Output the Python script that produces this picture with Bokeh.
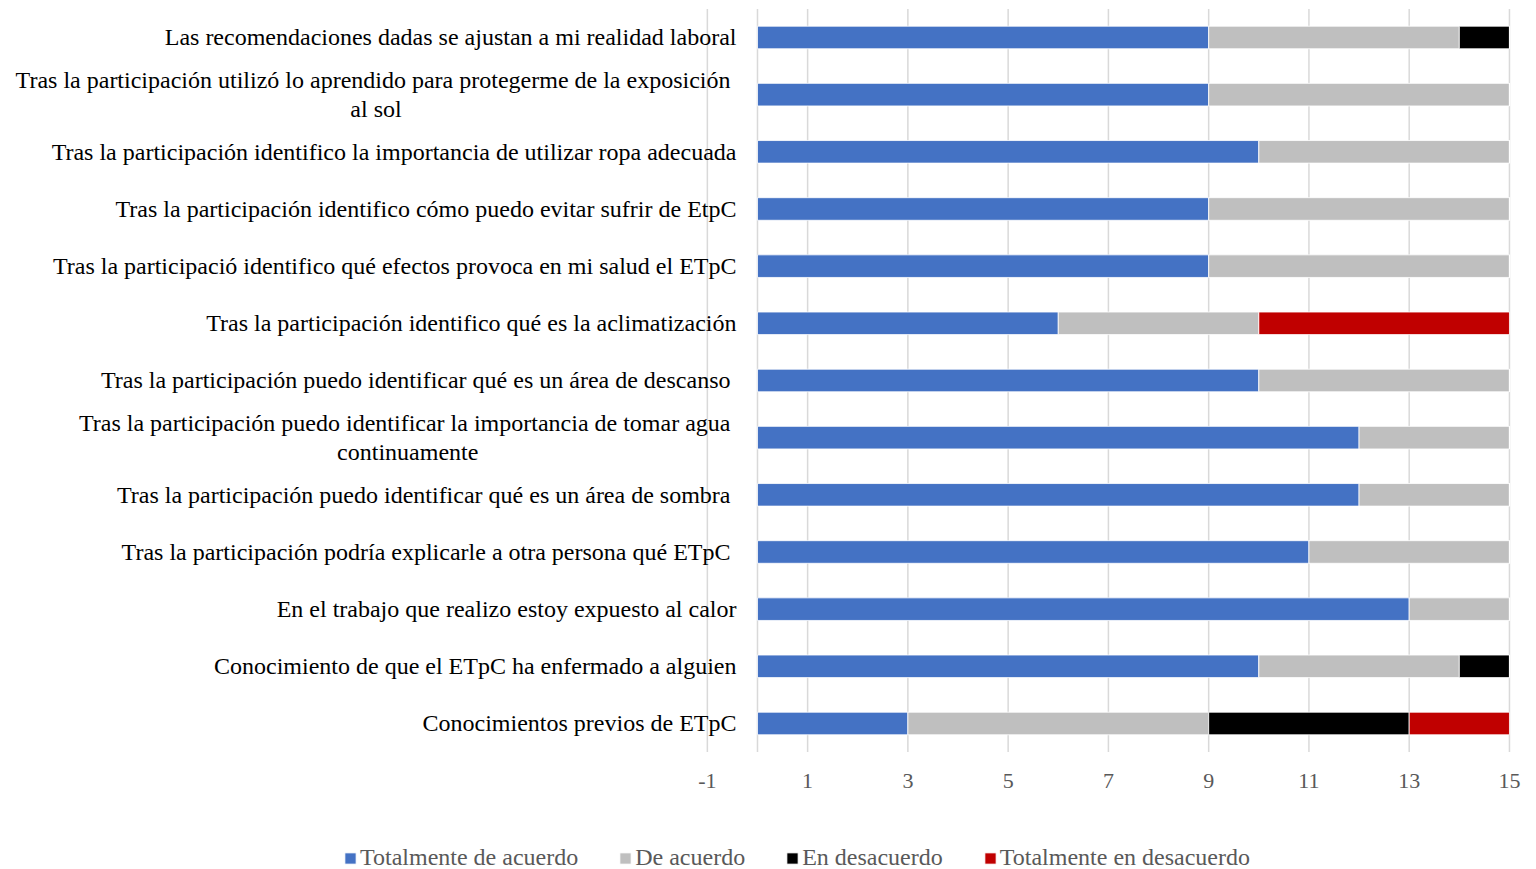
from bokeh.plotting import figure
from bokeh.models import ColumnDataSource, Legend, LegendItem, Range1d
from bokeh.core.properties import value
from bokeh.embed import file_html
from bokeh.resources import INLINE

categories = [
    "Las recomendaciones dadas se ajustan a mi realidad laboral",
    "Tras la participación  utilizó lo aprendido para protegerme de la exposición\nal sol",
    "Tras la participación identifico la importancia de utilizar ropa adecuada",
    "Tras la participación identifico cómo puedo evitar sufrir de EtpC",
    "Tras la participació identifico qué efectos provoca en mi salud el ETpC",
    "Tras la participación identifico qué es la aclimatización",
    "Tras la participación  puedo identificar qué es un área de descanso",
    "Tras la participación  puedo identificar la importancia de tomar agua\ncontinuamente",
    "Tras la participación  puedo identificar qué es un área de sombra",
    "Tras la participación  podría explicarle a otra persona qué ETpC",
    "En el trabajo que realizo estoy expuesto al calor",
    "Conocimiento de que el ETpC ha enfermado a alguien",
    "Conocimientos previos de ETpC",
]
totalmente_de_acuerdo = [9, 9, 10, 9, 9, 6, 10, 12, 12, 11, 13, 10, 3]
de_acuerdo = [5, 6, 5, 6, 6, 4, 5, 3, 3, 4, 2, 4, 6]
en_desacuerdo = [1, 0, 0, 0, 0, 0, 0, 0, 0, 0, 0, 1, 4]
totalmente_en_desacuerdo = [0, 0, 0, 0, 0, 5, 0, 0, 0, 0, 0, 0, 2]
series_names = ["Totalmente de acuerdo", "De acuerdo", "En desacuerdo", "Totalmente en desacuerdo"]
series_colors = ["#4472C4", "#BFBFBF", "#000000", "#C00000"]
x_ticks = [-1, 1, 3, 5, 7, 9, 11, 13, 15]
grid_values = [-1, 0, 1, 3, 5, 7, 9, 11, 13, 15]

FONT = "Liberation Serif"
n = len(categories)
row_pos = list(range(n - 1, -1, -1))  # first category on top

source = ColumnDataSource(dict(
    cat=categories,
    pos=row_pos,
    s0=totalmente_de_acuerdo,
    s1=de_acuerdo,
    s2=en_desacuerdo,
    s3=totalmente_en_desacuerdo,
))

p = figure(
    frame_width=1526, frame_height=869,
    x_range=Range1d(-15.10, 15.34),
    y_range=Range1d(-2.554, 12.647),
    output_backend="svg", toolbar_location=None,
    min_border_left=0, min_border_right=10, min_border_top=0, min_border_bottom=0,
)
p.outline_line_color = None
p.background_fill_color = "white"
p.border_fill_color = "white"
p.xaxis.visible = False
p.yaxis.visible = False
p.xgrid.visible = False
p.ygrid.visible = False

# vertical gridlines spanning the category band
grid_src = ColumnDataSource(dict(x=grid_values,
                                 y0=[-0.5] * len(grid_values),
                                 y1=[n - 0.5] * len(grid_values)))
p.segment(x0="x", x1="x", y0="y0", y1="y1", source=grid_src,
          line_color="#D9D9D9", line_width=1.5)

renderers = p.hbar_stack(["s0", "s1", "s2", "s3"], y="pos", height=0.395,
                         color=series_colors, source=source,
                         line_color="white", line_width=0.8)

# category labels
p.text(x=0, y="pos", text="cat", source=source, x_offset=-21,
       text_align="center", anchor="center_right", text_baseline="middle",
       text_font=value(FONT), text_font_size="24px", text_color="black",
       text_line_height=1.13)

# x tick labels
tick_src = ColumnDataSource(dict(x=x_ticks, y=[-1.0] * len(x_ticks),
                                 t=[str(t) for t in x_ticks]))
p.text(x="x", y="y", text="t", source=tick_src,
       text_align="center", text_baseline="middle",
       text_font=value(FONT), text_font_size="22px", text_color="#595959")

legend = Legend(
    items=[LegendItem(label=nm, renderers=[r]) for nm, r in zip(series_names, renderers)],
    orientation="horizontal", location=(343, -2),
    border_line_color=None, background_fill_alpha=0,
    label_text_font=FONT, label_text_font_size="24px", label_text_color="#595959",
    glyph_width=14, glyph_height=14, label_standoff=3, spacing=40,
    padding=0, margin=0,
)
p.add_layout(legend, "center")

open("out.html", "w").write(file_html(p, INLINE))
